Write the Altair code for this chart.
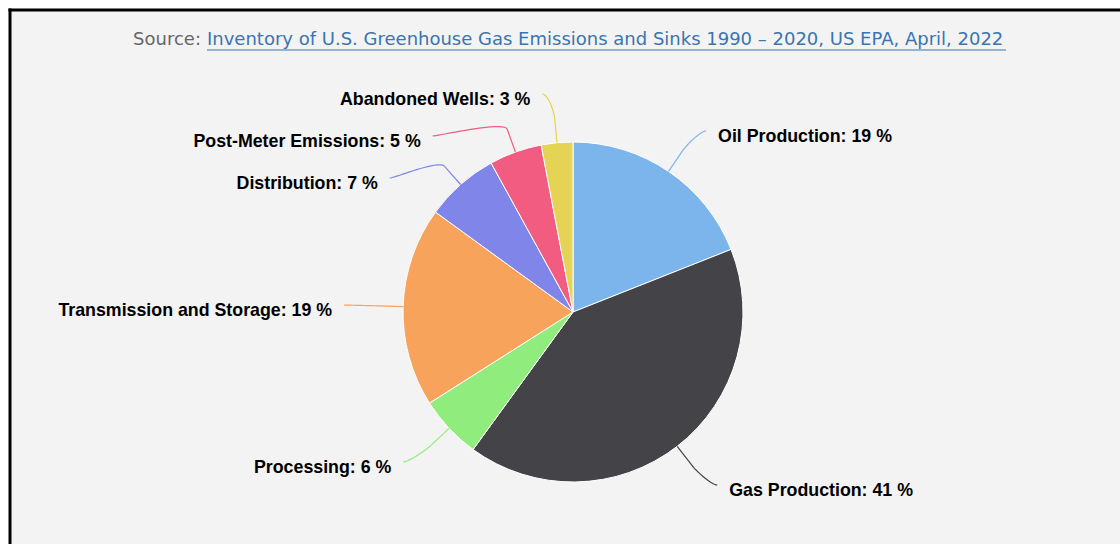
import math
import altair as alt
import pandas as pd

# ---------------- data ----------------
categories = ["Oil Production", "Gas Production", "Processing",
              "Transmission and Storage", "Distribution",
              "Post-Meter Emissions", "Abandoned Wells"]
shares = [19, 41, 6, 19, 7, 5, 3]
colors = ["#7cb5ec", "#434348", "#90ed7d", "#f7a35c",
          "#8085e9", "#f15c80", "#e4d354"]
source_prefix = "Source:"
source_link = ("Inventory of U.S. Greenhouse Gas Emissions and Sinks "
               "1990 \u2013 2020, US EPA, April, 2022")

# ---------------- layout ----------------
PAGE_W, PAGE_H = 1120, 544
X0, Y0 = 10, 10                 # frame origin (top-left)
VW, VH = PAGE_W - X0, PAGE_H - Y0
CX, CY = 573, 312               # pie centre (page px)
R = 170                         # pie radius
DIST = 49                       # label distance
GAP = 42                        # min vertical spacing of labels
TEXT_DY = 6
CONN_PAD = 10
TEXT_PAD = 22
BREAK = DIST / 2
FONT = "Liberation Sans"
SRC_FONT = "DejaVu Sans"

total = sum(shares)
rows = []
cum = 0
for i, (n, v) in enumerate(zip(categories, shares)):
    mid = 2 * math.pi * (cum + v / 2) / total
    cum += v
    rows.append(dict(idx=i, name=n, share=v, mid=mid,
                     side="right" if math.sin(mid) >= 0 else "left",
                     ny=CY - (R + DIST) * math.cos(mid)))

# distribute labels vertically on each side (top to bottom)
for side in ("right", "left"):
    grp = sorted([r for r in rows if r["side"] == side], key=lambda r: r["ny"])
    prev = None
    for r in grp:
        y = r["ny"] if prev is None else max(r["ny"], prev + GAP)
        r["ly"] = y
        prev = y

label_rows, conn_rows = [], []
RL = R + DIST
for r in rows:
    s = 1 if r["side"] == "right" else -1
    ratio = max(-1.0, min(1.0, (r["ly"] - CY) / RL))
    dx = RL * math.cos(math.asin(ratio))
    gx = CX + s * dx
    label_rows.append(dict(name=r["name"], side=r["side"],
                           label=f"{r['name']}: {r['share']} %",
                           x=gx + s * TEXT_PAD, y=r["ly"] + TEXT_DY))
    # connector: soft curve from label to break point, then line to slice
    sx, sy = math.sin(r["mid"]), -math.cos(r["mid"])
    T = (CX + R * sx, CY + R * sy)
    B = (CX + (R + BREAK) * sx, CY + (R + BREAK) * sy)
    P0 = (gx + s * CONN_PAD, r["ly"])
    P1 = (P0[0] - s * 5, P0[1])
    k = 0.35
    P2 = (B[0] + k * (B[0] - T[0]), B[1] + k * (B[1] - T[1]))
    P3 = B
    n = 20
    for j in range(n + 1):
        t = j / n
        a, b, c, d = (1 - t) ** 3, 3 * (1 - t) ** 2 * t, 3 * (1 - t) * t ** 2, t ** 3
        conn_rows.append(dict(name=r["name"], o=j,
                              x=a * P0[0] + b * P1[0] + c * P2[0] + d * P3[0],
                              y=a * P0[1] + b * P1[1] + c * P2[1] + d * P3[1]))
    conn_rows.append(dict(name=r["name"], o=n + 1, x=T[0], y=T[1]))

pie_df = pd.DataFrame({"idx": list(range(len(categories))),
                       "name": categories, "share": shares})
lab_df = pd.DataFrame(label_rows)
conn_df = pd.DataFrame(conn_rows)

xs = alt.Scale(domain=[X0, PAGE_W], nice=False, zero=False)
ys = alt.Scale(domain=[Y0, PAGE_H], nice=False, zero=False, reverse=True)
cscale = alt.Scale(domain=categories, range=colors)

pie = alt.Chart(pie_df).mark_arc(outerRadius=R, stroke="white", strokeWidth=1).encode(
    theta=alt.Theta("share:Q", stack=True),
    order=alt.Order("idx:Q"),
    color=alt.Color("name:N", scale=cscale, legend=None),
    x=alt.value(CX - X0), y=alt.value(CY - Y0),
)

conn = alt.Chart(conn_df).mark_line(strokeWidth=1.2, interpolate="linear").encode(
    x=alt.X("x:Q", scale=xs, axis=None),
    y=alt.Y("y:Q", scale=ys, axis=None),
    detail="name:N",
    order="o:Q",
    color=alt.Color("name:N", scale=cscale, legend=None),
)

def labels(side, align):
    return alt.Chart(lab_df).transform_filter(alt.datum.side == side).mark_text(
        align=align, baseline="middle", font=FONT, fontSize=17.8,
        fontWeight="bold", color="#000000"
    ).encode(
        x=alt.X("x:Q", scale=xs, axis=None),
        y=alt.Y("y:Q", scale=ys, axis=None),
        text="label:N",
    )

src_df = pd.DataFrame({"t": [source_prefix], "l": [source_link]})
src_prefix = alt.Chart(src_df).mark_text(
    align="right", baseline="middle", font=SRC_FONT, fontSize=18, color="#666666"
).encode(x=alt.value(201 - X0), y=alt.value(40 - Y0), text="t:N")
src_link = alt.Chart(src_df).mark_text(
    align="left", baseline="middle", font=SRC_FONT, fontSize=18, color="#3a75b0"
).encode(x=alt.value(207 - X0), y=alt.value(40 - Y0), text="l:N")
underline = alt.Chart(src_df).mark_rule(color="#3a75b0", strokeWidth=1.2).encode(
    x=alt.value(207 - X0), x2=alt.value(1006 - X0), y=alt.value(50 - Y0))

top_border = alt.Chart(src_df).mark_rule(color="#000000", strokeWidth=3).encode(
    x=alt.value(-1.5), x2=alt.value(VW), y=alt.value(0))
left_border = alt.Chart(src_df).mark_rule(color="#000000", strokeWidth=3).encode(
    x=alt.value(0), y=alt.value(-1.5), y2=alt.value(VH))

chart = alt.layer(
    pie, conn, labels("right", "left"), labels("left", "right"),
    src_prefix, src_link, underline, top_border, left_border
).properties(
    width=VW, height=VH,
    padding={"left": X0, "top": Y0, "right": 0, "bottom": 0},
    autosize=alt.AutoSizeParams(type="none"),
    background="white",
).configure_view(fill="#f3f3f3", strokeWidth=0)

chart.save("out.html", embed_options={"renderer": "svg", "actions": False})
